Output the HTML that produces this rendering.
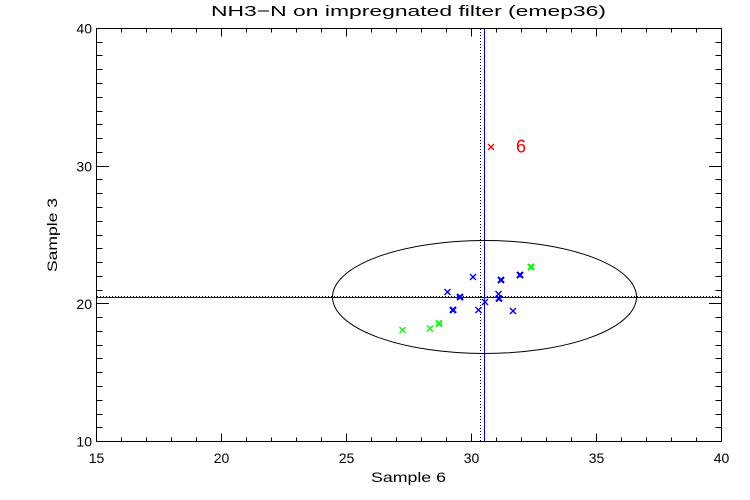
<!DOCTYPE html>
<html>
<head>
<meta charset="utf-8">
<style>
  html, body { margin: 0; padding: 0; background: #ffffff; }
  svg { display: block; }
  text { font-family: "Liberation Sans", "DejaVu Sans", sans-serif; fill: #000; }
</style>
</head>
<body>
<svg width="750" height="500" viewBox="0 0 750 500" xmlns="http://www.w3.org/2000/svg">
  <rect x="0" y="0" width="750" height="500" fill="#ffffff"/>

  <!-- Title -->
  <text x="211" y="16" font-size="15" textLength="395" lengthAdjust="spacingAndGlyphs">NH3−N on impregnated filter (emep36)</text>

  <!-- Axes box -->
  <g stroke="#000" stroke-width="1" fill="none" shape-rendering="crispEdges">
    <rect x="96.5" y="28.5" width="625" height="413"/>
  </g>

  <!-- X ticks (bottom and top) -->
  <g stroke="#000" stroke-width="1" shape-rendering="crispEdges">
    <!-- majors -->
    <path d="M96.5 441.5 V433.5 M221.5 441.5 V433.5 M346.5 441.5 V433.5 M471.5 441.5 V433.5 M596.5 441.5 V433.5 M721.5 441.5 V433.5"/>
    <path d="M96.5 28.5 V36.5 M221.5 28.5 V36.5 M346.5 28.5 V36.5 M471.5 28.5 V36.5 M596.5 28.5 V36.5 M721.5 28.5 V36.5"/>
    <!-- minors -->
    <path d="M121.5 441.5 V437.5 M146.5 441.5 V437.5 M171.5 441.5 V437.5 M196.5 441.5 V437.5
             M246.5 441.5 V437.5 M271.5 441.5 V437.5 M296.5 441.5 V437.5 M321.5 441.5 V437.5
             M371.5 441.5 V437.5 M396.5 441.5 V437.5 M421.5 441.5 V437.5 M446.5 441.5 V437.5
             M496.5 441.5 V437.5 M521.5 441.5 V437.5 M546.5 441.5 V437.5 M571.5 441.5 V437.5
             M621.5 441.5 V437.5 M646.5 441.5 V437.5 M671.5 441.5 V437.5 M696.5 441.5 V437.5"/>
    <path d="M121.5 28.5 V32.5 M146.5 28.5 V32.5 M171.5 28.5 V32.5 M196.5 28.5 V32.5
             M246.5 28.5 V32.5 M271.5 28.5 V32.5 M296.5 28.5 V32.5 M321.5 28.5 V32.5
             M371.5 28.5 V32.5 M396.5 28.5 V32.5 M421.5 28.5 V32.5 M446.5 28.5 V32.5
             M496.5 28.5 V32.5 M521.5 28.5 V32.5 M546.5 28.5 V32.5 M571.5 28.5 V32.5
             M621.5 28.5 V32.5 M646.5 28.5 V32.5 M671.5 28.5 V32.5 M696.5 28.5 V32.5"/>
  </g>

  <!-- Y ticks (left and right) -->
  <g stroke="#000" stroke-width="1" shape-rendering="crispEdges">
    <!-- majors at 10,20,30,40 -->
    <path d="M96.5 441.5 H109 M96.5 303.5 H109 M96.5 166.5 H109 M96.5 28.5 H109"/>
    <path d="M721.5 441.5 H709 M721.5 303.5 H709 M721.5 166.5 H709 M721.5 28.5 H709"/>
    <!-- minors -->
    <path d="M96.5 427.5 H102.5 M96.5 414.5 H102.5 M96.5 400.5 H102.5 M96.5 386.5 H102.5 M96.5 372.5 H102.5
             M96.5 358.5 H102.5 M96.5 345.5 H102.5 M96.5 331.5 H102.5 M96.5 317.5 H102.5
             M96.5 290.5 H102.5 M96.5 276.5 H102.5 M96.5 262.5 H102.5 M96.5 248.5 H102.5 M96.5 235.5 H102.5
             M96.5 221.5 H102.5 M96.5 207.5 H102.5 M96.5 193.5 H102.5 M96.5 179.5 H102.5
             M96.5 152.5 H102.5 M96.5 138.5 H102.5 M96.5 124.5 H102.5 M96.5 111.5 H102.5 M96.5 97.5 H102.5
             M96.5 83.5 H102.5 M96.5 69.5 H102.5 M96.5 55.5 H102.5 M96.5 42.5 H102.5"/>
    <path d="M721.5 427.5 H715.5 M721.5 414.5 H715.5 M721.5 400.5 H715.5 M721.5 386.5 H715.5 M721.5 372.5 H715.5
             M721.5 358.5 H715.5 M721.5 345.5 H715.5 M721.5 331.5 H715.5 M721.5 317.5 H715.5
             M721.5 290.5 H715.5 M721.5 276.5 H715.5 M721.5 262.5 H715.5 M721.5 248.5 H715.5 M721.5 235.5 H715.5
             M721.5 221.5 H715.5 M721.5 207.5 H715.5 M721.5 193.5 H715.5 M721.5 179.5 H715.5
             M721.5 152.5 H715.5 M721.5 138.5 H715.5 M721.5 124.5 H715.5 M721.5 111.5 H715.5 M721.5 97.5 H715.5
             M721.5 83.5 H715.5 M721.5 69.5 H715.5 M721.5 55.5 H715.5 M721.5 42.5 H715.5"/>
  </g>

  <!-- X tick labels -->
  <g font-size="14" text-anchor="middle">
    <text x="96.5" y="463">15</text>
    <text x="221.5" y="463">20</text>
    <text x="346.5" y="463">25</text>
    <text x="471.5" y="463">30</text>
    <text x="596.5" y="463">35</text>
    <text x="721.5" y="463">40</text>
  </g>

  <!-- Y tick labels -->
  <g font-size="14" text-anchor="end">
    <text x="92" y="446.5">10</text>
    <text x="92" y="309">20</text>
    <text x="92" y="171.5">30</text>
    <text x="92" y="33.5">40</text>
  </g>

  <!-- Axis titles -->
  <text x="408.5" y="482" font-size="14" text-anchor="middle" textLength="75" lengthAdjust="spacingAndGlyphs">Sample 6</text>
  <text transform="translate(57,235) rotate(-90)" font-size="14" text-anchor="middle" textLength="74" lengthAdjust="spacingAndGlyphs">Sample 3</text>

  <!-- Reference lines -->
  <g shape-rendering="crispEdges">
    <line x1="480.5" y1="29" x2="480.5" y2="441" stroke="#000" stroke-width="1" stroke-dasharray="1 2"/>
    <line x1="97" y1="296.5" x2="721" y2="296.5" stroke="#000" stroke-width="1" stroke-dasharray="1 2"/>
    <line x1="484.5" y1="29" x2="484.5" y2="441" stroke="#0000ff" stroke-width="1"/>
    <line x1="97" y1="297.5" x2="721" y2="297.5" stroke="#0000ff" stroke-width="1"/>
  </g>

  <!-- Ellipse -->
  <ellipse cx="484.5" cy="297" rx="152" ry="56.5" fill="none" stroke="#000" stroke-width="1"/>

  <!-- Markers -->
  <defs>
    <path id="xm" d="M-3 -3 L3 3 M-3 3 L3 -3"/>
  </defs>
  <!-- blue thin -->
  <g stroke="#0000ff" stroke-width="1.4" fill="none">
    <use href="#xm" x="473" y="277"/>
    <use href="#xm" x="447.5" y="292"/>
    <use href="#xm" x="498.5" y="294"/>
    <use href="#xm" x="478.5" y="310"/>
    <use href="#xm" x="513" y="311"/>
    <use href="#xm" x="485" y="302"/>
  </g>
  <!-- blue bold -->
  <g stroke="#0000ff" stroke-width="2.2" fill="none">
    <use href="#xm" x="520" y="275"/>
    <use href="#xm" x="501" y="280"/>
    <use href="#xm" x="460" y="297"/>
    <use href="#xm" x="499" y="298.5"/>
    <use href="#xm" x="453" y="310"/>
  </g>
  <!-- green -->
  <g stroke="#00ff00" stroke-width="1.4" fill="none">
    <use href="#xm" x="430" y="328.5"/>
    <use href="#xm" x="402.5" y="330"/>
  </g>
  <g stroke="#00ff00" stroke-width="2.2" fill="none">
    <use href="#xm" x="531" y="267"/>
    <use href="#xm" x="439" y="323.5"/>
  </g>
  <!-- red -->
  <g stroke="#ff0000" stroke-width="1.4" fill="none">
    <use href="#xm" x="491" y="147"/>
  </g>
  <text x="516" y="152.5" font-size="18" fill="#ff0000" style="fill:#ff0000">6</text>
</svg>
</body>
</html>
